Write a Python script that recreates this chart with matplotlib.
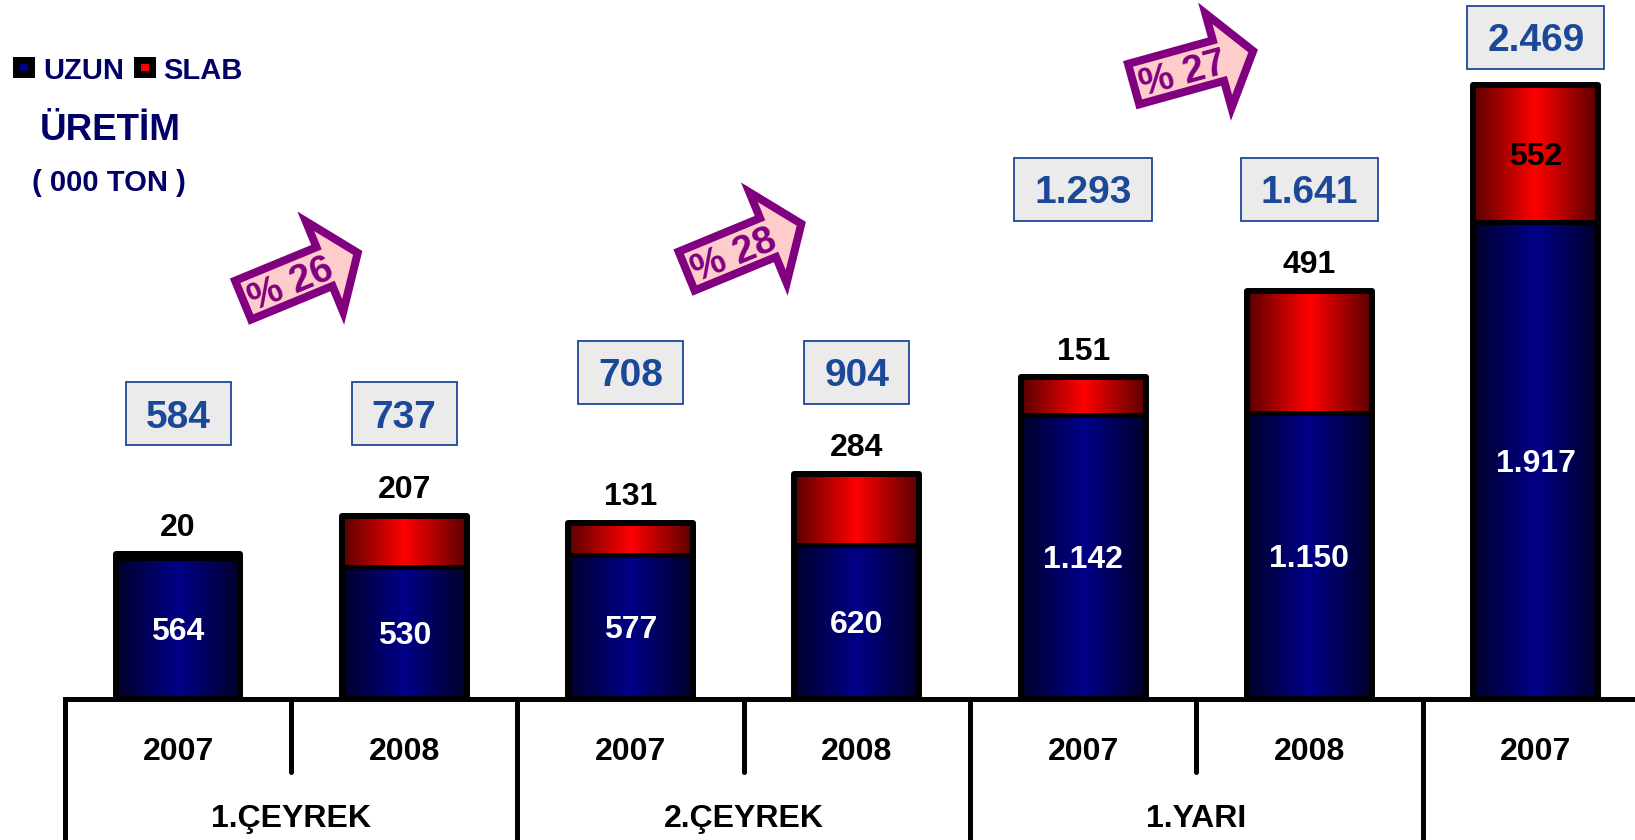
import numpy as np
import matplotlib
matplotlib.use("Agg")
import matplotlib.pyplot as plt
from matplotlib.colors import LinearSegmentedColormap
from matplotlib.patches import Rectangle, Polygon
from matplotlib.transforms import Affine2D, ScaledTranslation, offset_copy

plt.rcParams['font.family'] = ['Liberation Sans', 'DejaVu Sans']
plt.rcParams['font.weight'] = 'bold'

# data (000 ton)
years = ['2007', '2008', '2007', '2008', '2007', '2008', '2007']
groups = ['1.ÇEYREK', '2.ÇEYREK', '1.YARI']
uzun = [564, 530, 577, 620, 1142, 1150, 1917]
slab = [20, 207, 131, 284, 151, 491, 552]
totals = ['584', '737', '708', '904', '1.293', '1.641', '2.469']
uzun_labels = ['564', '530', '577', '620', '1.142', '1.150', '1.917']
slab_labels = ['20', '207', '131', '284', '151', '491', '552']
growth = ['% 26', '% 28', '% 27']

NAVY = '#000066'
BOX_BLUE = '#1c4898'
PURPLE = '#800080'

fig = plt.figure(figsize=(16.35, 8.4), dpi=100)
ax = fig.add_axes([0, 141.4 / 840, 1, 698.6 / 840])
ax.axis('off')

blue_cm = LinearSegmentedColormap.from_list('b', ['#00002a', '#000088', '#00002a'])
red_cm = LinearSegmentedColormap.from_list('r', ['#5a0000', '#ff0000', '#5a0000'])
grad = np.linspace(0, 1, 256).reshape(1, -1)

width = 0.552
x = np.arange(len(uzun))
for i in x:
    x0, x1 = i - width / 2, i + width / 2
    u, s = uzun[i], slab[i]
    ax.imshow(grad, cmap=blue_cm, extent=(x0, x1, 0, u), aspect='auto',
              interpolation='bicubic', zorder=2)
    ax.imshow(grad, cmap=red_cm, extent=(x0, x1, u, u + s), aspect='auto',
              interpolation='bicubic', zorder=2)
    ax.add_patch(Rectangle((x0, 0), width, u + s, fill=False, ec='black',
                           lw=4.3, joinstyle='round', zorder=3))
    ax.plot([x0, x1], [u, u], color='black', lw=3.6, zorder=3, solid_capstyle='butt')
    # labels
    ax.text(i, u / 2, uzun_labels[i], color='white', ha='center',
            va='center_baseline', fontsize=23, zorder=4)
    if i == len(uzun) - 1:
        ax.text(i, u + s / 2, slab_labels[i], color='black', ha='center',
                va='center_baseline', fontsize=23, zorder=4)
    else:
        ax.annotate(slab_labels[i], (i, u + s), xytext=(0, 21),
                    textcoords='offset points', ha='center',
                    va='center_baseline', fontsize=23, color='black', zorder=4)

ax.set_xlim(-0.7866, 6.4385)
ax.set_ylim(0, 2812)

# total boxes
fig.canvas.draw()
renderer = fig.canvas.get_renderer()
group_max = [737, 737, 904, 904, 1641, 1641, 2469]
for i in x:
    by = min(group_max[i] + 410, 2663)
    t = ax.text(i, by, totals[i], color=BOX_BLUE, ha='center',
                va='center_baseline', fontsize=28, zorder=6)
    bb = t.get_window_extent(renderer)
    w = bb.width + 40
    h = 63
    tr = ScaledTranslation(i, by, ax.transData)
    ax.add_patch(Rectangle((-w / 2, -h / 2), w, h, transform=Affine2D() + tr,
                           fc='#ebebeb', ec=BOX_BLUE, lw=1.3, zorder=5,
                           clip_on=False))

# growth arrows
arrow_pos = [(0.541, 1699, 22.4), (2.501, 1816, 22.4), (4.487, 2540, 15.5)]
L, hl, bh, hh = 124, 36, 21, 49
shape = [(-L / 2, -bh), (L / 2 - hl, -bh), (L / 2 - hl, -hh), (L / 2, 0),
         (L / 2 - hl, hh), (L / 2 - hl, bh), (-L / 2, bh)]
for (ax_x, ax_y, ang), lab in zip(arrow_pos, growth):
    tr = Affine2D().rotate_deg(ang) + ScaledTranslation(ax_x, ax_y, ax.transData)
    ax.add_patch(Polygon(shape, closed=True, transform=tr, fc='#ffcccc',
                         ec=PURPLE, lw=5.8, joinstyle='miter', zorder=7,
                         clip_on=False))
    a = np.radians(ang)
    dx, dy = -hl / 3 * np.cos(a), -hl / 3 * np.sin(a)
    ax.text(ax_x, ax_y, lab, transform=offset_copy(ax.transData, fig, x=dx, y=dy,
                                                   units='dots'),
            rotation=ang, rotation_mode='anchor', ha='center',
            va='center_baseline', color=PURPLE, fontsize=28, zorder=8)

# category table under the bars
xt = ax.get_xaxis_transform()
ax.plot([-0.5, 6.4385], [0, 0], color='black', lw=3.6, transform=xt,
        clip_on=False, zorder=1)
for gx in [-0.5, 1.5, 3.5, 5.5]:
    ax.plot([gx, gx], [0, -0.25], color='black', lw=3.6, transform=xt,
            clip_on=False, solid_capstyle='round')
for sx in [0.5, 2.5, 4.5]:
    ax.plot([sx, sx], [0, -0.105], color='black', lw=3.6, transform=xt,
            clip_on=False, solid_capstyle='round')
for i, yr in enumerate(years):
    ax.text(i, -0.072, yr, transform=xt, ha='center', va='center_baseline',
            fontsize=23)
for j, g in enumerate(groups):
    ax.text(2 * j + 0.5, -0.167, g, transform=xt, ha='center',
            va='center_baseline', fontsize=23)

# legend and titles (figure pixel positions)
def fx(px):
    return px / 1635

def fy(py):
    return 1 - py / 840

for sq_x, col, lab, tx in [(13, '#000080', 'UZUN', 43), (134, '#ff0000', 'SLAB', 163)]:
    fig.patches.append(Rectangle((fx(sq_x), fy(78)), 22 / 1635, 21 / 840,
                                 transform=fig.transFigure, fc='black', ec='none'))
    fig.patches.append(Rectangle((fx(sq_x + 7), fy(71)), 8 / 1635, 7 / 840,
                                 transform=fig.transFigure, fc=col, ec='none'))
    fig.text(fx(tx), fy(68), lab, color=NAVY, fontsize=21, va='center_baseline',
             ha='left')

fig.text(fx(110), fy(127), 'ÜRETİM', color=NAVY, fontsize=26.5, ha='center',
         va='center_baseline')
fig.text(fx(109), fy(180), '( 000 TON )', color=NAVY, fontsize=21, ha='center',
         va='center_baseline')

fig.savefig('out.png', dpi=100)
